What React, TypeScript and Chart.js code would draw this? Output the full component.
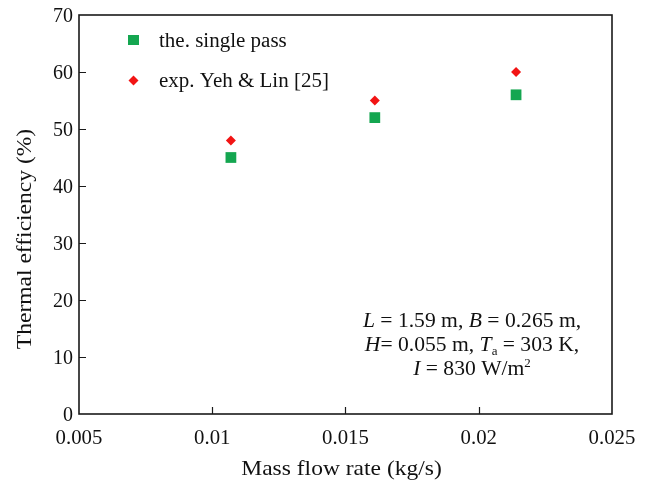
import React, { useEffect, useRef } from 'react';
import { Chart, registerables } from 'chart.js';

Chart.register(...registerables);

const massFlow = [0.0107, 0.0161, 0.0214];
const theSinglePass = [45, 52, 56];
const expYehLin = [48, 55, 60];
const xTicks = [0.005, 0.01, 0.015, 0.02, 0.025];
const xTickLabels = ['0.005', '0.01', '0.015', '0.02', '0.025'];
const yTicks = [0, 10, 20, 30, 40, 50, 60, 70];
const yTickLabels = ['0', '10', '20', '30', '40', '50', '60', '70'];
const seriesNames = ['the. single pass', 'exp. Yeh & Lin [25]'];
const xTitle = 'Mass flow rate (kg/s)';
const yTitle = 'Thermal efficiency (%)';

const GREEN = '#14a650';
const RED = '#f21414';
const SERIF = '"Liberation Serif", "Times New Roman", serif';

type Run = { t: string; i?: boolean; sub?: boolean; sup?: boolean };

const annotationLines: Run[][] = [
  [{ t: 'L', i: true }, { t: ' = 1.59 m, ' }, { t: 'B', i: true }, { t: ' = 0.265 m,' }],
  [{ t: 'H', i: true }, { t: '= 0.055 m, ' }, { t: 'T', i: true }, { t: 'a', sub: true }, { t: ' = 303 K,' }],
  [{ t: 'I', i: true }, { t: ' = 830 W/m' }, { t: '2', sup: true }],
];

function runFont(r: Run, size: number) {
  const s = r.sub || r.sup ? Math.round(size * 0.62) : size;
  return `${r.i ? 'italic ' : ''}${s}px ${SERIF}`;
}

function drawRuns(ctx: CanvasRenderingContext2D, runs: Run[], cx: number, baseline: number, size: number, sx: number) {
  let total = 0;
  for (const r of runs) {
    ctx.font = runFont(r, size);
    total += ctx.measureText(r.t).width;
  }
  ctx.save();
  ctx.translate(cx, baseline);
  ctx.scale(sx, 1);
  let x = -total / 2;
  ctx.textAlign = 'left';
  ctx.textBaseline = 'alphabetic';
  for (const r of runs) {
    ctx.font = runFont(r, size);
    const dy = r.sub ? 4 : r.sup ? -8 : 0;
    ctx.fillText(r.t, x, dy);
    x += ctx.measureText(r.t).width;
  }
  ctx.restore();
}

const decorPlugin = {
  id: 'decor',
  afterDraw(chart: any) {
    const ctx: CanvasRenderingContext2D = chart.ctx;
    const { left, right, top, bottom } = chart.chartArea;
    const xs = chart.scales.x;
    const ys = chart.scales.y;
    ctx.save();
    // frame
    ctx.strokeStyle = '#1a1a1a';
    ctx.lineWidth = 1.6;
    ctx.strokeRect(left, top, right - left, bottom - top);
    // inward ticks
    ctx.lineWidth = 1.2;
    ctx.beginPath();
    xTicks.slice(1, -1).forEach((v) => {
      const px = Math.round(xs.getPixelForValue(v)) + 0.5;
      ctx.moveTo(px, bottom);
      ctx.lineTo(px, bottom - 7);
    });
    yTicks.slice(1, -1).forEach((v) => {
      const py = Math.round(ys.getPixelForValue(v)) + 0.5;
      ctx.moveTo(left, py);
      ctx.lineTo(left + 7, py);
    });
    ctx.stroke();
    // tick labels
    ctx.fillStyle = '#111';
    ctx.font = `20px ${SERIF}`;
    ctx.textAlign = 'right';
    ctx.textBaseline = 'alphabetic';
    yTicks.forEach((v, i) => {
      ctx.fillText(yTickLabels[i], left - 6, ys.getPixelForValue(v) + 7);
    });
    ctx.textAlign = 'center';
    xTicks.forEach((v, i) => {
      ctx.save();
      ctx.translate(xs.getPixelForValue(v), bottom + 30);
      ctx.scale(1.04, 1);
      ctx.fillText(xTickLabels[i], 0, 0);
      ctx.restore();
    });
    // axis titles
    ctx.fillStyle = '#111';
    drawRuns(ctx, [{ t: xTitle }], (left + right) / 2 - 4, bottom + 61, 21, 1.12);
    ctx.save();
    ctx.translate(31, 239);
    ctx.rotate(-Math.PI / 2);
    drawRuns(ctx, [{ t: yTitle }], 0, 0, 21, 1.12);
    ctx.restore();
    // legend
    ctx.fillStyle = GREEN;
    ctx.fillRect(128, 35, 11, 10);
    ctx.fillStyle = RED;
    ctx.beginPath();
    ctx.moveTo(133.5, 75.5);
    ctx.lineTo(138.5, 80.5);
    ctx.lineTo(133.5, 85.5);
    ctx.lineTo(128.5, 80.5);
    ctx.closePath();
    ctx.fill();
    ctx.fillStyle = '#111';
    ctx.font = `20px ${SERIF}`;
    ctx.textAlign = 'left';
    ctx.save();
    ctx.translate(159, 47);
    ctx.scale(1.05, 1);
    ctx.fillText(seriesNames[0], 0, 0);
    ctx.restore();
    ctx.save();
    ctx.translate(159, 87);
    ctx.scale(1.05, 1);
    ctx.fillText(seriesNames[1], 0, 0);
    ctx.restore();
    // annotation
    annotationLines.forEach((line, i) => {
      drawRuns(ctx, line, 472, 327 + i * 24, 20, 1.08);
    });
    ctx.restore();
  },
};

export default function App() {
  const ref = useRef<HTMLCanvasElement>(null);
  useEffect(() => {
    document.body.style.margin = '0';
    const chart = new Chart(ref.current!, {
      type: 'scatter',
      data: {
        datasets: [
          {
            label: seriesNames[0],
            data: massFlow.map((x, i) => ({ x, y: theSinglePass[i] })),
            pointStyle: 'rect',
            pointRadius: 7.6,
            backgroundColor: GREEN,
            borderColor: GREEN,
            borderWidth: 0,
          },
          {
            label: seriesNames[1],
            data: massFlow.map((x, i) => ({ x, y: expYehLin[i] })),
            pointStyle: 'rectRot',
            pointRadius: 5,
            backgroundColor: RED,
            borderColor: RED,
            borderWidth: 0,
          },
        ],
      },
      options: {
        animation: false,
        responsive: false,
        layout: { padding: { left: 0, right: 37, top: 15, bottom: 0 } },
        plugins: { legend: { display: false }, tooltip: { enabled: false } },
        scales: {
          x: {
            type: 'linear',
            min: 0.005,
            max: 0.025,
            grid: { display: false },
            border: { display: false },
            ticks: { display: false },
            afterFit: (s: any) => {
              s.height = 72;
            },
          },
          y: {
            type: 'linear',
            min: 0,
            max: 70,
            grid: { display: false },
            border: { display: false },
            ticks: { display: false },
            afterFit: (s: any) => {
              s.width = 79;
            },
          },
        },
      },
      plugins: [decorPlugin],
    });
    return () => chart.destroy();
  }, []);
  return (
    <div style={{ position: 'fixed', left: 0, top: 0, width: 649, height: 486, background: '#fff' }}>
      <canvas ref={ref} width={649} height={486} style={{ display: 'block' }} />
    </div>
  );
}
